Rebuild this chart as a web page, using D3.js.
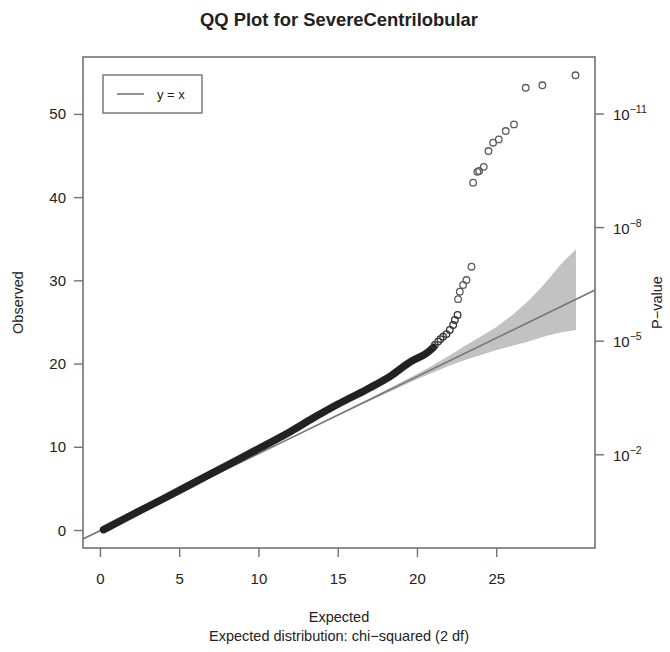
<!DOCTYPE html>
<html>
<head>
<meta charset="utf-8">
<script src="https://cdn.jsdelivr.net/npm/d3@7"></script>
<style>
  body { margin: 0; background: #fff; }
  text { font-family: "Liberation Sans", Arial, sans-serif; fill: #222; }
</style>
</head>
<body>
<script>
// dense part of the QQ cloud (expected vs observed)
const bulkExpected = [0.2, 2, 4, 6, 8, 10, 12, 13.5, 15, 16.8, 18.3, 19.5, 20.7, 21.0];
const bulkObserved = [0.1, 1.9, 3.85, 5.85, 7.85, 9.85, 11.9, 13.6, 15.2, 16.95, 18.55, 20.2, 21.5, 22.0];

// sparse tail where single circles show
const tailExpected = [21.1, 21.3, 21.45, 21.62, 21.83, 22.04, 22.25, 22.36, 22.53, 22.56, 22.67, 22.88, 23.09, 23.41,
  23.51, 23.78, 23.89, 24.18, 24.48, 24.77, 25.13, 25.57, 26.09, 26.83, 27.88, 29.97];
const tailObserved = [22.3, 22.7, 23.0, 23.3, 23.6, 24.1, 24.7, 25.3, 25.9, 27.8, 28.7, 29.5, 30.1, 31.7,
  41.8, 43.1, 43.2, 43.7, 45.6, 46.6, 47.0, 48.0, 48.8, 53.2, 53.5, 54.7];

// confidence band
const bandExpected = [13, 15, 17, 19, 20, 21, 22, 23, 24, 25, 26, 27, 28, 29, 30];
const bandLower = [12.0, 13.8, 15.6, 17.35, 18.2, 19.0, 19.8, 20.5, 21.1, 21.7, 22.2, 22.7, 23.3, 23.8, 24.1];
const bandUpper = [12.1, 14.0, 15.9, 17.85, 18.85, 19.9, 21.0, 22.2, 23.3, 24.5, 25.9, 27.6, 29.6, 31.9, 33.8];

// reference line end points as drawn
const refLineX = [-1.1, 31.2];
const refLineY = [-1.02, 28.9];

const xTicks = [0, 5, 10, 15, 20, 25];
const yTicks = [0, 10, 20, 30, 40, 50];
const pTickExps = [-2, -5, -8, -11];

const W = 670, H = 652;
const plotL = 83, plotR = 595, plotT = 57, plotB = 548;

const svg = d3.select("body").append("svg")
  .attr("width", W)
  .attr("height", H);

const x = d3.scaleLinear().domain([-1.1, 31.2]).range([plotL, plotR]);
const y = d3.scaleLinear().domain([-2.1, 56.9]).range([plotB, plotT]);
// right axis: -log10(p) mapped onto the observed scale
const pToObs = (e) => -e * 4.55;

svg.append("defs").append("clipPath").attr("id", "plotclip")
  .append("rect")
  .attr("x", plotL).attr("y", plotT)
  .attr("width", plotR - plotL).attr("height", plotB - plotT);

const plot = svg.append("g").attr("clip-path", "url(#plotclip)");

// band
const band = d3.area()
  .x((d, i) => x(bandExpected[i]))
  .y0((d, i) => y(bandLower[i]))
  .y1((d, i) => y(bandUpper[i]));
plot.append("path")
  .datum(bandExpected)
  .attr("d", band)
  .attr("fill", "#c2c2c2");

// y = x line
plot.append("line")
  .attr("x1", x(refLineX[0])).attr("y1", y(refLineY[0]))
  .attr("x2", x(refLineX[1])).attr("y2", y(refLineY[1]))
  .attr("stroke", "#777")
  .attr("stroke-width", 1.6);

// dense cloud
const bulkLine = d3.line()
  .x((d, i) => x(bulkExpected[i]))
  .y((d, i) => y(bulkObserved[i]))
  .curve(d3.curveMonotoneX);
plot.append("path")
  .datum(bulkExpected)
  .attr("d", bulkLine)
  .attr("fill", "none")
  .attr("stroke", "#222")
  .attr("stroke-width", 7.5)
  .attr("stroke-linecap", "round")
  .attr("stroke-linejoin", "round");

plot.append("g")
  .selectAll("circle")
  .data(d3.range(tailExpected.length))
  .join("circle")
  .attr("cx", (i) => x(tailExpected[i]))
  .attr("cy", (i) => y(tailObserved[i]))
  .attr("r", 3.3)
  .attr("fill", "none")
  .attr("stroke", (i) => tailObserved[i] < 26 ? "#333" : "#5a5a5a")
  .attr("stroke-width", 1.3);

// box
svg.append("rect")
  .attr("x", plotL).attr("y", plotT)
  .attr("width", plotR - plotL).attr("height", plotB - plotT)
  .attr("fill", "none")
  .attr("stroke", "#727272")
  .attr("stroke-width", 1.6);

const tickColor = "#727272";

// bottom axis
const xAxis = svg.append("g");
xAxis.selectAll("line")
  .data(xTicks)
  .join("line")
  .attr("x1", (d) => x(d)).attr("x2", (d) => x(d))
  .attr("y1", plotB).attr("y2", plotB + 9)
  .attr("stroke", tickColor).attr("stroke-width", 1.4);
xAxis.selectAll("text")
  .data(xTicks)
  .join("text")
  .attr("x", (d) => x(d))
  .attr("y", plotB + 36)
  .attr("text-anchor", "middle")
  .attr("font-size", 15)
  .text((d) => d);

// left axis
const yAxis = svg.append("g");
yAxis.selectAll("line")
  .data(yTicks)
  .join("line")
  .attr("x1", plotL - 9).attr("x2", plotL)
  .attr("y1", (d) => y(d)).attr("y2", (d) => y(d))
  .attr("stroke", tickColor).attr("stroke-width", 1.4);
yAxis.selectAll("text")
  .data(yTicks)
  .join("text")
  .attr("x", plotL - 17)
  .attr("y", (d) => y(d) + 5)
  .attr("text-anchor", "end")
  .attr("font-size", 15)
  .text((d) => d);

// right axis
const pAxis = svg.append("g");
pAxis.selectAll("line")
  .data(pTickExps)
  .join("line")
  .attr("x1", plotR).attr("x2", plotR + 9)
  .attr("y1", (d) => y(pToObs(d))).attr("y2", (d) => y(pToObs(d)))
  .attr("stroke", tickColor).attr("stroke-width", 1.4);
const pLabels = pAxis.selectAll("text")
  .data(pTickExps)
  .join("text")
  .attr("x", plotR + 18)
  .attr("y", (d) => y(pToObs(d)) + 6)
  .attr("font-size", 15);
pLabels.append("tspan").text("10");
pLabels.append("tspan")
  .attr("dy", -7)
  .attr("font-size", 10.5)
  .text((d) => "\u2212" + (-d));

// titles
svg.append("text")
  .attr("x", (plotL + plotR) / 2)
  .attr("y", 26)
  .attr("text-anchor", "middle")
  .attr("font-size", 18.4)
  .attr("font-weight", "bold")
  .text("QQ Plot for SevereCentrilobular");

svg.append("text")
  .attr("x", (plotL + plotR) / 2)
  .attr("y", 622)
  .attr("text-anchor", "middle")
  .attr("font-size", 14.5)
  .text("Expected");

svg.append("text")
  .attr("x", (plotL + plotR) / 2)
  .attr("y", 641)
  .attr("text-anchor", "middle")
  .attr("font-size", 14.5)
  .text("Expected distribution: chi\u2212squared (2 df)");

svg.append("text")
  .attr("transform", `translate(23,${(plotT + plotB) / 2}) rotate(-90)`)
  .attr("text-anchor", "middle")
  .attr("font-size", 14.5)
  .text("Observed");

svg.append("text")
  .attr("transform", `translate(662,${(plotT + plotB) / 2}) rotate(-90)`)
  .attr("text-anchor", "middle")
  .attr("font-size", 14.5)
  .text("P\u2212value");

// legend
const legend = svg.append("g");
legend.append("rect")
  .attr("x", 103).attr("y", 75)
  .attr("width", 99).attr("height", 38)
  .attr("fill", "#fff")
  .attr("stroke", "#727272")
  .attr("stroke-width", 1.4);
legend.append("line")
  .attr("x1", 117).attr("x2", 144)
  .attr("y1", 94).attr("y2", 94)
  .attr("stroke", "#777")
  .attr("stroke-width", 1.6);
legend.append("text")
  .attr("x", 157).attr("y", 99)
  .attr("font-size", 13)
  .text("y = x");
</script>
</body>
</html>
